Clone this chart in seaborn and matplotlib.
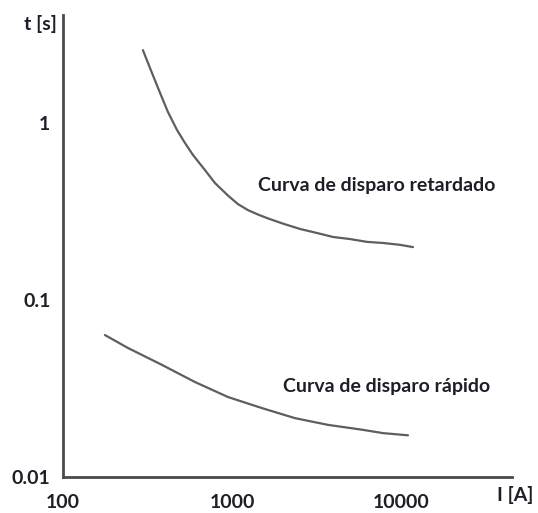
import numpy as np
import pandas as pd
import seaborn as sns
import matplotlib.pyplot as plt

# curve values (log-log)
i_slow = [297, 336, 375, 418, 473, 527, 588, 692, 793, 947, 1085, 1243, 1425,
          1633, 2004, 2526, 3186, 3963, 4990, 6295, 7820, 9860, 11780]
t_slow = [2.58, 1.92, 1.48, 1.153, 0.912, 0.771, 0.659, 0.542, 0.458, 0.389,
          0.348, 0.322, 0.304, 0.289, 0.270, 0.252, 0.239, 0.227, 0.221,
          0.213, 0.210, 0.205, 0.199]
i_fast = [177, 242, 385, 604, 947, 1505, 2360, 3700, 5880, 7820, 11000]
t_fast = [0.0634, 0.0536, 0.0430, 0.0344, 0.0283, 0.0245, 0.0215, 0.0197,
          0.0185, 0.0177, 0.0172]

x_ticks = [100, 1000, 10000]
x_labels = ["100", "1000", "10000"]
y_ticks = [0.01, 0.1, 1]
y_labels = ["0.01", "0.1", "1"]

df = pd.concat([
    pd.DataFrame({"I": i_slow, "t": t_slow, "curva": "retardado"}),
    pd.DataFrame({"I": i_fast, "t": t_fast, "curva": "rapido"}),
])

sns.set_style("white")
plt.rcParams["font.family"] = ["Lato", "DejaVu Sans"]
txt = "#1e1e28"

fig = plt.figure(figsize=(5.38, 5.13), dpi=100)
ax = fig.add_axes([63 / 538, 36 / 513, 449 / 538, 462 / 513])

sns.lineplot(data=df, x="I", y="t", hue="curva", units="curva", estimator=None,
             palette=["#5e5e5e", "#5e5e5e"], linewidth=1.6, legend=False,
             sort=False, ax=ax)

ax.set_xscale("log")
ax.set_yscale("log")
ax.set_xlim(100, 10 ** (2 + 449 / 169))
ax.set_ylim(0.01, 10 ** (-2 + 462 / 177))
ax.set_xticks(x_ticks, x_labels)
ax.set_yticks(y_ticks, y_labels)
ax.minorticks_off()
ax.tick_params(length=0, labelsize=14, labelcolor=txt)
ax.tick_params(axis="x", pad=12)
ax.tick_params(axis="y", pad=9)
for lab in ax.get_xticklabels() + ax.get_yticklabels():
    lab.set_fontweight("bold")
ax.set_xlabel("")
ax.set_ylabel("")

for side in ["top", "right"]:
    ax.spines[side].set_visible(False)
for side in ["left", "bottom"]:
    ax.spines[side].set_color("#4a4a4a")
    ax.spines[side].set_linewidth(2)

ax.text(0.434, 0.632, "Curva de disparo retardado", transform=ax.transAxes,
        fontsize=14, fontweight="bold", color=txt, va="center", ha="left")
ax.text(0.490, 0.195, "Curva de disparo rápido", transform=ax.transAxes,
        fontsize=14, fontweight="bold", color=txt, va="center", ha="left")

fig.text(57 / 538, 1 - 24 / 513, "t [s]", fontsize=14, fontweight="bold",
         color=txt, ha="right", va="center")
fig.text(497 / 538, 1 - 495 / 513, "I [A]", fontsize=14, fontweight="bold",
         color=txt, ha="left", va="center")

fig.savefig("out.png", dpi=100)
